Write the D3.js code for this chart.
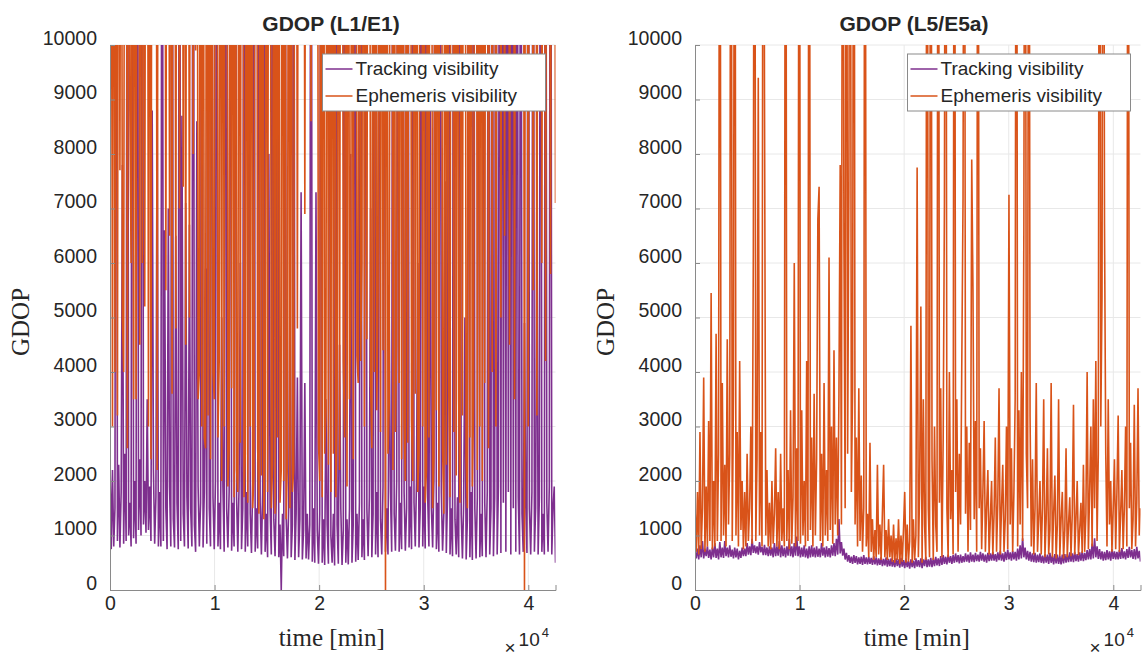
<!DOCTYPE html>
<html>
<head>
<meta charset="utf-8">
<script src="https://cdn.jsdelivr.net/npm/d3@7"></script>
<style>
  body { margin: 0; background: #fff; }
  .lbl { font-family: "Liberation Sans", Arial, sans-serif; fill: #262626; }
  .serif { font-family: "Liberation Serif", "DejaVu Serif", serif; fill: #262626; }
</style>
</head>
<body>
<div class="root"></div>
<script>
// run length in minutes, samples are evenly spaced over it
var tMax = 42600;

var xTicks = [0, 10000, 20000, 30000, 40000];
var yTicks = [0, 1000, 2000, 3000, 4000, 5000, 6000, 7000, 8000, 9000, 10000];
var seriesNames = ['Tracking visibility', 'Ephemeris visibility'];
var panelTitles = ['GDOP (L1/E1)', 'GDOP (L5/E5a)'];

// GDOP readings, 20 samples per row; values over 10000 run off the top of the axes
var l1Tracking = [
  2400, 750, 2200, 800, 1500, 20000, 900, 2300, 780, 1800, 7800, 850, 2500, 900, 20000, 1000, 1600, 800, 20000, 950,
  2000, 850, 20000, 1100, 2400, 1000, 20000, 1200, 2000, 1050, 3500, 1100, 1900, 900, 8800, 2200, 850, 1700, 9400, 800,
  1800, 800, 20000, 900, 6600, 1500, 750, 7000, 1900, 800, 20000, 1300, 780, 6500, 1600, 750, 20000, 900, 8700, 1400,
  800, 7100, 1700, 760, 6700, 1500, 800, 20000, 1200, 700, 8600, 1900, 800, 1600, 20000, 780, 1800, 5900, 850, 20000,
  1500, 800, 20000, 1700, 750, 2000, 20000, 800, 1600, 750, 5000, 1900, 700, 20000, 1500, 780, 1800, 20000, 720, 1600,
  800, 20000, 1700, 700, 1900, 6000, 750, 1500, 20000, 700, 1800, 800, 20000, 1400, 680, 2000, 20000, 700, 1500, 760,
  20000, 1600, 650, 1800, 20000, 700, 1400, 600, 8000, 1500, 650, 20000, 1300, 620, 1700, 20000, 600, 1200, 0, 1400,
  620, 20000, 1300, 580, 1500, 5800, 600, 1200, 20000, 550, 1400, 3900, 600, 1300, 7300, 560, 1100, 3800, 580, 1400,
  560, 1200, 20000, 520, 1500, 500, 7300, 1100, 480, 1400, 20000, 500, 1300, 460, 3500, 1200, 480, 20000, 1000, 500,
  1400, 450, 20000, 1200, 480, 4500, 1500, 460, 1100, 20000, 500, 1300, 470, 1500, 8000, 500, 1200, 20000, 520, 1400,
  550, 1600, 20000, 600, 1300, 550, 20000, 1500, 620, 1700, 7000, 600, 1400, 20000, 650, 1800, 600, 20000, 1300, 650,
  1900, 20000, 700, 1500, 650, 5000, 1800, 700, 20000, 1400, 720, 2000, 20000, 700, 1600, 750, 20000, 1800, 720, 1500,
  20000, 780, 1900, 750, 20000, 1600, 800, 2000, 6000, 780, 1500, 20000, 800, 1900, 760, 20000, 1700, 800, 9000, 1500,
  780, 2000, 20000, 750, 1600, 700, 20000, 1800, 720, 1400, 7500, 680, 1700, 20000, 650, 1500, 620, 20000, 1300, 650,
  1700, 600, 20000, 1400, 580, 1600, 5000, 560, 1300, 20000, 600, 1800, 550, 20000, 1500, 580, 1700, 20000, 600, 1400,
  620, 20000, 1600, 600, 1800, 20000, 650, 1500, 20000, 620, 1700, 20000, 650, 1900, 20000, 680, 20000, 1600, 20000, 700,
  20000, 1800, 20000, 650, 20000, 1500, 20000, 700, 20000, 1700, 650, 20000, 1400, 700, 4900, 1600, 680, 20000, 1500, 650,
  1800, 20000, 700, 1500, 7500, 650, 1700, 20000, 700, 1400, 650, 20000, 1600, 700, 1900, 20000, 650, 1500, 1900, 500
];

var l1Ephemeris = [
  3900, 20000, 3000, 20000, 4000, 20000, 3200, 20000, 7700, 20000, 5000, 4000, 20000, 20000, 2600, 20000, 8800, 6000, 20000, 3500,
  20000, 3500, 20000, 20000, 4500, 20000, 6000, 20000, 5200, 20000, 20000, 3000, 20000, 2400, 20000, 20000, 20000, 20000, 2200, 20000,
  20000, 20000, 20000, 20000, 20000, 5500, 20000, 20000, 6500, 20000, 3600, 20000, 20000, 4800, 20000, 20000, 7000, 20000, 20000, 7400,
  20000, 4500, 20000, 20000, 5000, 20000, 20000, 8000, 20000, 9900, 20000, 3500, 4000, 20000, 3000, 20000, 2800, 2600, 20000, 3200,
  20000, 2400, 20000, 4000, 3500, 20000, 20000, 2800, 4200, 20000, 2000, 20000, 3000, 20000, 20000, 1900, 2600, 20000, 3700, 20000,
  1700, 20000, 2200, 1800, 20000, 2700, 20000, 20000, 1700, 2500, 20000, 1600, 20000, 3000, 20000, 1500, 2100, 20000, 20000, 2600,
  1400, 20000, 2100, 20000, 1300, 2600, 20000, 1800, 20000, 20000, 1500, 2300, 20000, 1400, 20000, 2800, 20000, 1600, 2200, 20000,
  2000, 20000, 1300, 2400, 20000, 1500, 20000, 1800, 2200, 20000, 20000, 4800, 20000, 20000, 20000, 20000, 20000, 6900, 20000, 20000,
  20000, 20000, 8600, 20000, 20000, 20000, 20000, 20000, 2700, 2000, 20000, 1700, 20000, 2500, 3300, 20000, 2300, 20000, 1800, 20000,
  2500, 20000, 1700, 3200, 20000, 2200, 20000, 20000, 4200, 2800, 20000, 1900, 20000, 3500, 5000, 20000, 2400, 20000, 20000, 4300,
  3800, 20000, 4200, 6000, 20000, 3000, 20000, 4600, 20000, 20000, 3800, 2600, 20000, 4000, 20000, 3300, 5500, 20000, 2900, 20000,
  4400, 20000, 0, 20000, 2500, 3400, 20000, 20000, 2200, 20000, 2900, 4500, 20000, 3800, 20000, 2400, 20000, 3100, 2000, 20000,
  2700, 20000, 20000, 3100, 2000, 20000, 3600, 20000, 1800, 2500, 20000, 20000, 3000, 20000, 1600, 2200, 20000, 2800, 20000, 20000,
  1500, 2400, 20000, 3300, 20000, 1900, 20000, 20000, 2600, 1400, 20000, 2300, 20000, 3600, 1700, 20000, 20000, 2900, 20000, 2100,
  20000, 3500, 1600, 20000, 3200, 20000, 20000, 2400, 1500, 20000, 2800, 20000, 1900, 3400, 20000, 20000, 2200, 20000, 3000, 20000,
  2000, 20000, 3800, 20000, 20000, 2600, 20000, 20000, 4000, 20000, 20000, 3000, 20000, 20000, 20000, 5000, 20000, 20000, 6500, 20000,
  20000, 20000, 4500, 20000, 20000, 20000, 3500, 20000, 20000, 20000, 20000, 20000, 20000, 20000, 0, 20000, 20000, 3000, 20000, 20000,
  20000, 5500, 20000, 20000, 3200, 20000, 20000, 20000, 6000, 20000, 20000, 4200, 20000, 20000, 20000, 5800, 20000, 20000, 20000, 7100
];

var l5Tracking = [
  700, 580, 760, 560, 820, 600, 900, 580, 760, 620, 800, 590, 740, 560, 780, 600, 860, 590, 760, 560,
  880, 600, 780, 590, 900, 620, 780, 600, 820, 610, 740, 580, 780, 600, 760, 560, 720, 590, 780, 620,
  760, 620, 860, 650, 800, 640, 940, 680, 820, 670, 800, 650, 880, 690, 790, 640, 830, 640, 780, 620,
  800, 630, 780, 600, 860, 620, 800, 630, 900, 600, 820, 620, 780, 600, 800, 630, 940, 620, 800, 600,
  860, 630, 980, 620, 800, 600, 780, 610, 820, 600, 760, 580, 800, 600, 820, 610, 780, 600, 800, 610,
  760, 600, 860, 630, 780, 600, 800, 610, 770, 600, 820, 630, 860, 620, 940, 650, 1300, 670, 880, 630,
  760, 560, 680, 520, 640, 500, 610, 480, 640, 500, 620, 470, 600, 480, 610, 460, 640, 480, 600, 470,
  610, 480, 590, 460, 620, 470, 600, 450, 580, 460, 610, 440, 570, 450, 600, 430, 570, 440, 580, 430,
  550, 420, 580, 440, 560, 410, 590, 430, 550, 400, 580, 420, 530, 390, 560, 420, 540, 400, 580, 430,
  550, 420, 580, 400, 560, 440, 610, 420, 560, 430, 590, 420, 580, 440, 610, 450, 580, 440, 620, 460,
  640, 480, 610, 470, 650, 500, 620, 480, 640, 500, 670, 510, 640, 490, 650, 500, 620, 510, 670, 520,
  650, 500, 690, 520, 650, 510, 680, 530, 650, 520, 700, 540, 670, 520, 650, 500, 680, 530, 670, 540,
  700, 540, 660, 520, 690, 550, 720, 540, 670, 520, 700, 550, 740, 560, 690, 540, 720, 560, 700, 540,
  760, 560, 820, 580, 950, 600, 780, 560, 720, 540, 700, 520, 670, 510, 680, 500, 650, 510, 670, 500,
  630, 490, 660, 500, 650, 480, 680, 500, 630, 470, 660, 490, 650, 480, 620, 470, 650, 490, 660, 500,
  660, 510, 690, 520, 670, 510, 700, 530, 660, 520, 690, 540, 710, 530, 680, 550, 730, 560, 750, 560,
  850, 580, 950, 600, 800, 570, 750, 560, 710, 540, 700, 550, 730, 560, 710, 540, 750, 570, 710, 560,
  700, 560, 730, 570, 770, 580, 710, 560, 750, 590, 790, 600, 730, 570, 750, 560, 790, 580, 720, 520
];

var l5Ephemeris = [
  1550, 700, 1800, 650, 2900, 750, 1500, 3900, 700, 1900, 800, 3100, 900, 5450, 750, 2000, 800, 4700, 900, 2500,
  20000, 900, 3800, 1000, 2300, 800, 4600, 1200, 2500, 20000, 900, 3600, 20000, 1000, 2900, 800, 4200, 1100, 2000, 750,
  1800, 800, 2500, 900, 1500, 3000, 850, 6200, 20000, 900, 2400, 9400, 1000, 2900, 800, 20000, 9100, 1000, 2200, 800,
  1600, 750, 2000, 850, 1400, 2600, 800, 1800, 750, 2500, 900, 1500, 800, 20000, 900, 2200, 750, 3300, 850, 1700,
  6000, 800, 2600, 900, 20000, 850, 3300, 1000, 2000, 800, 4200, 900, 20000, 1100, 2800, 800, 3600, 1000, 2400, 6800,
  7400, 900, 2500, 800, 3800, 1000, 2200, 900, 6100, 1100, 3000, 850, 4400, 1200, 2800, 1000, 3600, 7800, 1200, 20000,
  6400, 1500, 20000, 2500, 7300, 20000, 1800, 3700, 20000, 1200, 2800, 800, 3700, 900, 2100, 700, 1500, 20000, 800, 1400,
  600, 2700, 700, 1300, 550, 1100, 600, 2300, 650, 1200, 550, 1400, 2300, 600, 1100, 550, 1300, 600, 1000, 520,
  1200, 500, 950, 550, 1300, 480, 1000, 520, 1100, 1800, 500, 1200, 520, 900, 4850, 500, 1300, 550, 1000, 7750,
  600, 1800, 5200, 500, 3500, 1200, 550, 20000, 1500, 600, 20000, 2400, 550, 3000, 1200, 700, 20000, 1600, 3700, 600,
  2800, 7100, 20000, 1500, 600, 4000, 1300, 2200, 650, 20000, 1800, 3500, 700, 2500, 1200, 4200, 7200, 20000, 1400, 3000,
  700, 2700, 1100, 7900, 5500, 1300, 3100, 700, 20000, 1500, 2600, 750, 1800, 3100, 700, 1500, 2200, 650, 1300, 2000,
  650, 1400, 2800, 700, 1600, 3700, 650, 1500, 2300, 700, 1300, 3000, 750, 7250, 1200, 2600, 700, 1800, 3500, 20000,
  800, 3300, 1200, 4000, 900, 6600, 20000, 2500, 1500, 20000, 3200, 800, 2400, 650, 1500, 3800, 700, 1300, 2000, 650,
  1500, 3500, 600, 1300, 2600, 650, 1100, 3800, 600, 1400, 2100, 580, 1200, 3500, 620, 1300, 1800, 580, 1100, 2600,
  600, 1200, 1700, 620, 1400, 3400, 650, 1300, 2000, 640, 1100, 1600, 680, 2300, 700, 1400, 4000, 750, 1800, 3000,
  800, 3500, 1500, 4200, 900, 2500, 20000, 3000, 5400, 20000, 6700, 2500, 800, 3500, 1200, 2000, 700, 1500, 2400, 750,
  1800, 3200, 700, 1400, 2200, 750, 1500, 3000, 800, 20000, 1500, 2700, 750, 1300, 3400, 800, 1600, 3700, 1000, 1500
];

var colors = ['#7E2F8E', '#D95319'];

var W = 1142, H = 657;
var svg = d3.select('.root').append('svg')
  .attr('width', W)
  .attr('height', H)
  .style('background', '#fff');

function drawPanel(idx, left, right, titleX, tracking, ephemeris) {
  var top = 45, bottom = 590;
  var g = svg.append('g');

  var x = d3.scaleLinear().domain([0, tMax]).range([left, right]);
  var y = d3.scaleLinear().domain([0, 10000]).range([bottom, top]);

  // grid
  g.append('g').selectAll('line')
    .data(yTicks.slice(1))
    .enter().append('line')
      .attr('x1', left).attr('x2', right)
      .attr('y1', function(d) { return y(d); })
      .attr('y2', function(d) { return y(d); })
      .attr('stroke', '#e8e8e8');
  g.append('g').selectAll('line')
    .data(xTicks.slice(1))
    .enter().append('line')
      .attr('y1', top).attr('y2', bottom)
      .attr('x1', function(d) { return x(d); })
      .attr('x2', function(d) { return x(d); })
      .attr('stroke', '#e8e8e8');

  var clipId = 'clip' + idx;
  svg.append('clipPath').attr('id', clipId)
    .append('rect')
      .attr('x', left).attr('y', top)
      .attr('width', right - left).attr('height', bottom - top);

  var plot = g.append('g').attr('clip-path', 'url(#' + clipId + ')');
  [tracking, ephemeris].forEach(function(s, k) {
    var dt = tMax / (s.length - 1);
    var line = d3.line()
      .x(function(d, i) { return x(i * dt); })
      .y(function(d) { return y(d); });
    plot.append('path')
      .datum(s)
      .attr('d', line)
      .attr('fill', 'none')
      .attr('stroke', colors[k])
      .attr('stroke-width', 1.6)
      .attr('stroke-linejoin', 'bevel');
  });

  // axes
  var xAxis = g.append('g')
    .attr('transform', 'translate(0,' + bottom + ')')
    .call(d3.axisBottom(x).tickValues(xTicks).tickSize(-5)
      .tickFormat(function(d) { return d / 10000; }));
  var yAxis = g.append('g')
    .attr('transform', 'translate(' + left + ',0)')
    .call(d3.axisLeft(y).tickValues(yTicks).tickSize(-5).tickPadding(13)
      .tickFormat(d3.format('d')));
  [xAxis, yAxis].forEach(function(a) {
    a.select('.domain').attr('stroke', '#8a8a8a');
    a.selectAll('.tick line').attr('stroke', '#8a8a8a');
    a.selectAll('.tick text')
      .attr('font-size', 19.5)
      .style('font-family', '"Liberation Sans", Arial, sans-serif')
      .attr('fill', '#262626');
  });
  yAxis.selectAll('.tick text').attr('dy', '-0.05em');
  xAxis.selectAll('.tick text').attr('y', 6).attr('dy', '0.74em');

  // title and labels
  g.append('text')
    .attr('class', 'lbl')
    .attr('x', titleX).attr('y', 31)
    .attr('text-anchor', 'middle')
    .attr('font-size', 21).attr('font-weight', 'bold')
    .text(panelTitles[idx]);

  g.append('text')
    .attr('class', 'serif')
    .attr('transform', 'translate(' + (left - 81) + ',322) rotate(-90)')
    .attr('text-anchor', 'middle')
    .attr('font-size', 25)
    .text('GDOP');

  g.append('text')
    .attr('class', 'serif')
    .attr('x', (left + right) / 2 - 1).attr('y', 646)
    .attr('text-anchor', 'middle')
    .attr('font-size', 25)
    .text('time [min]');

  // x10^4 exponent
  var ex = g.append('text').attr('class', 'lbl').attr('x', right - 51).attr('y', 654).attr('font-size', 19);
  ex.append('tspan').text('\u00d7');
  ex.append('tspan').attr('dx', 3).attr('dy', -8).text('10');
  ex.append('tspan').attr('font-size', 13).attr('dx', 2).attr('dy', -9).text('4');

  // legend
  var lx = right - 233, ly = 54, lw = 223, lh = 57;
  var leg = g.append('g');
  leg.append('rect')
    .attr('x', lx).attr('y', ly).attr('width', lw).attr('height', lh)
    .attr('fill', '#fff').attr('stroke', '#8a8a8a').attr('stroke-width', 1);
  seriesNames.forEach(function(name, k) {
    var yy = ly + 15 + k * 27;
    leg.append('line')
      .attr('x1', lx + 3).attr('x2', lx + 30)
      .attr('y1', yy).attr('y2', yy)
      .attr('stroke', colors[k]).attr('stroke-width', 1.5);
    leg.append('text')
      .attr('class', 'lbl')
      .attr('x', lx + 33).attr('y', yy)
      .attr('dy', '0.33em')
      .attr('font-size', 19)
      .text(name);
  });
}

drawPanel(0, 110, 555.5, 331, l1Tracking, l1Ephemeris);
drawPanel(1, 695, 1140.5, 914, l5Tracking, l5Ephemeris);
</script>
</body>
</html>
